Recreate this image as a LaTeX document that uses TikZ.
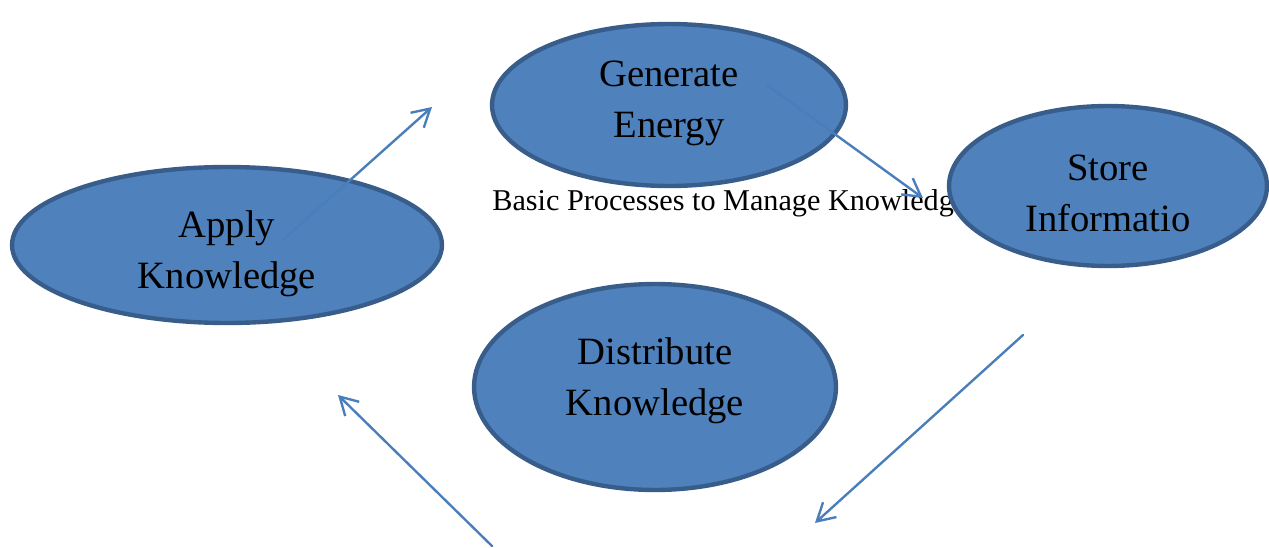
\documentclass[tikz,border=0pt]{standalone}
\usepackage{fontspec}
\setmainfont{Liberation Serif}
\usetikzlibrary{shapes.geometric, arrows.meta, positioning}
\definecolor{procfill}{HTML}{4F81BD}
\definecolor{procline}{HTML}{385D8A}
\definecolor{arrline}{HTML}{4A7EBB}

\begin{document}
\begin{tikzpicture}[
    x=0.02cm, y=-0.02cm,
    procnode/.style = {
        ellipse, draw=procline, fill=procfill, line width=2.5pt
    },
    proctext/.style = {
        align=center, inner sep=0pt, font=\fontsize{22}{29}\selectfont
    },
    arr/.style = {-{Straight Barb[length=3.5mm, width=4mm]}, line width=1.35pt,
        draw=arrline, line cap=round},
    ann/.style = {font=\fontsize{17.2}{20}\selectfont, inner sep=0pt},
]
\useasboundingbox (0,0) rectangle (1269,548);

\node[procnode, minimum width=8.6cm, minimum height=3.12cm,
    label={[proctext, yshift=-0.18cm]center:Apply\\Knowledge}] (apply) at (227,245) {};
\node[procnode, minimum width=7.08cm, minimum height=3.24cm,
    label={[proctext, yshift=0.04cm]center:Generate\\Energy}] (generate) at (669,105) {};
\node[procnode, minimum width=7.24cm, minimum height=4.12cm,
    label={[proctext, yshift=0.12cm]center:Distribute\\Knowledge}] (distribute) at (655,387) {};
\node[ann, anchor=base west] (title) at (492,210) {Basic Processes to Manage Knowledg};
\node[procnode, minimum width=6.36cm, minimum height=3.2cm,
    label={[proctext, yshift=-0.14cm]center:Store\\Informatio}] (store) at (1108,186) {};

% loose ends of the arrows
\coordinate (a1s) at (283,240);
\coordinate (a1e) at (432,107);
\coordinate (a2s) at (767,85);
\coordinate (a2e) at (923,198);
\coordinate (a3s) at (1023,335);
\coordinate (a3e) at (815,523);
\coordinate (a4s) at (492,546);
\coordinate (a4e) at (338,395);

\draw[arr] (a1s) -- (a1e);
\draw[arr] (a2s) -- (a2e);
\draw[arr] (a3s) -- (a3e);
\draw[arr] (a4s) -- (a4e);

\end{tikzpicture}
\end{document}
